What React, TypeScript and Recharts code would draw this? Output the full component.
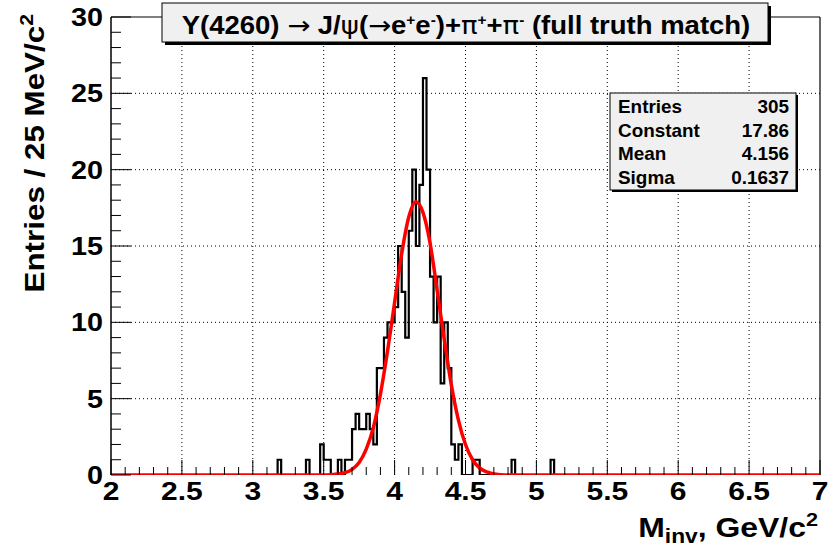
import React from "react";
import { ComposedChart, Line, XAxis, YAxis, ReferenceLine } from "recharts";

const FONT = '"Liberation Sans", Arial, Helvetica, sans-serif';
const SYM = '"DejaVu Sans", sans-serif';

// histogram: lower edge of each non-empty 25 MeV bin, and its entries
const binWidth = 0.025;
const binLow = [
  3.175, 3.375, 3.475, 3.5, 3.525, 3.6, 3.65, 3.675, 3.7, 3.725, 3.75, 3.775, 3.8, 3.825, 3.85,
  3.875, 3.9, 3.925, 3.95, 3.975, 4.0, 4.025, 4.05, 4.075, 4.1, 4.125, 4.15, 4.175, 4.2,
  4.225, 4.25, 4.275, 4.3, 4.325, 4.35, 4.375, 4.4, 4.425, 4.45, 4.55, 4.575, 4.825, 5.1,
];
const binEntries = [
  1, 1, 2, 1, 1, 1, 1, 1, 3, 4, 3, 3, 4, 3, 2,
  7, 7, 9, 10, 10, 11, 15, 12, 9, 16, 20, 15, 19, 26,
  20, 13, 10, 13, 6, 10, 7, 2, 1, 2, 1, 1, 1, 1,
];

// gaussian fit (red)
const fitMass = [
  2, 3.45, 3.5, 3.55, 3.6, 3.65, 3.7, 3.75, 3.8, 3.85, 3.9, 3.95, 4.0, 4.05, 4.1, 4.15,
  4.2, 4.25, 4.3, 4.35, 4.4, 4.45, 4.5, 4.55, 4.6, 4.65, 4.7, 4.75, 4.8, 4.85, 7,
];
const fitValue = [
  0, 0, 0, 0.02, 0.06, 0.15, 0.37, 0.82, 1.7, 3.1, 5.3, 8.1, 11.3, 14.5, 16.9, 17.9,
  17.2, 15.2, 12.1, 8.9, 5.9, 3.6, 2.0, 1.0, 0.45, 0.2, 0.07, 0.02, 0, 0, 0,
];

const xMajor = [2, 2.5, 3, 3.5, 4, 4.5, 5, 5.5, 6, 6.5, 7];
const yMajor = [0, 5, 10, 15, 20, 25, 30];

const stats = [
  ["Entries", "305"],
  ["Constant", "17.86"],
  ["Mean", "4.156"],
  ["Sigma", "0.1637"],
];

// 5 minor divisions per major on both axes
const xTicks: number[] = [];
xMajor.forEach((v, i) => {
  if (i === xMajor.length - 1) { xTicks.push(v); return; }
  for (let k = 0; k < 5; k++) xTicks.push(Math.round((v + k * 0.1) * 10) / 10);
});
const yTicks: number[] = [];
yMajor.forEach((v, i) => {
  if (i === yMajor.length - 1) { yTicks.push(v); return; }
  for (let k = 0; k < 5; k++) yTicks.push(v + k);
});

const histPoints: { m: number; n: number }[] = [{ m: 2, n: 0 }];
binLow.forEach((lo, i) => {
  histPoints.push({ m: lo, n: binEntries[i] });
  const next = binLow[i + 1];
  if (next === undefined || Math.abs(next - (lo + binWidth)) > 1e-6) {
    histPoints.push({ m: lo + binWidth, n: 0 });
  }
});
histPoints.push({ m: 7, n: 0 });

const fitPoints = fitMass.map((m, i) => ({ m, f: fitValue[i] }));

const isMajor = (list: number[], v: number) => list.some((t) => Math.abs(t - v) < 1e-6);

function XTick(props: any) {
  const { x, y, payload } = props;
  const v = payload.value;
  const major = isMajor(xMajor, v);
  return (
    <g>
      <line x1={x} x2={x} y1={y} y2={y - (major ? 15 : 8)} stroke="#000" strokeWidth={1} />
      {major && (
        <text
          transform={`translate(${x},${y + 25}) scale(1.2,1)`}
          textAnchor="middle"
          fontFamily={FONT}
          fontWeight="bold"
          fontSize={25}
          fill="#000"
        >
          {String(v)}
        </text>
      )}
    </g>
  );
}

function YTick(props: any) {
  const { x, y, payload } = props;
  const v = payload.value;
  const major = isMajor(yMajor, v);
  const ax = x + 8;
  return (
    <g>
      <line x1={ax} x2={ax + (major ? 20 : 10)} y1={y} y2={y} stroke="#000" strokeWidth={1} />
      {major && (
        <text
          transform={`translate(${x},${y + 9}) scale(1.15,1)`}
          textAnchor="end"
          fontFamily={FONT}
          fontWeight="bold"
          fontSize={25}
          fill="#000"
        >
          {String(v)}
        </text>
      )}
    </g>
  );
}

export default function App() {
  return (
    <div style={{ position: "absolute", left: 0, top: 0, width: 835, height: 549, background: "#fff" }}>
      <ComposedChart width={835} height={549} margin={{ top: 17, right: 15, bottom: 0, left: 0 }}>
        <XAxis
          dataKey="m"
          type="number"
          domain={[2, 7]}
          ticks={xTicks}
          interval={0}
          tickSize={0}
          tickMargin={0}
          tick={(p: any) => <XTick {...p} />}
          height={74}
          axisLine={false}
          allowDataOverflow
        />
        <YAxis
          type="number"
          domain={[0, 30]}
          ticks={yTicks}
          interval={0}
          tickSize={0}
          tickMargin={8}
          tick={(p: any) => <YTick {...p} />}
          width={111}
          axisLine={{ stroke: "#000", strokeWidth: 1.5 }}
          allowDataOverflow
        />
        {xMajor.slice(1, -1).map((v) => (
          <ReferenceLine key={"gx" + v} x={v} stroke="#000" strokeDasharray="1 3" />
        ))}
        {yMajor.slice(1, -1).map((v) => (
          <ReferenceLine key={"gy" + v} y={v} stroke="#000" strokeDasharray="1 3" />
        ))}
        {/* frame top and right */}
        <ReferenceLine y={30} stroke="#000" strokeWidth={1.2} />
        <ReferenceLine x={7} stroke="#000" strokeWidth={1.2} />
        <Line
          data={histPoints}
          dataKey="n"
          type="stepAfter"
          stroke="#000"
          strokeWidth={2.2}
          dot={false}
          activeDot={false}
          isAnimationActive={false}
        />
        <Line
          data={fitPoints}
          dataKey="f"
          type="monotone"
          stroke="#ff0000"
          strokeWidth={3.5}
          dot={false}
          activeDot={false}
          isAnimationActive={false}
        />
      </ComposedChart>

      <svg
        width={835}
        height={549}
        style={{ position: "absolute", left: 0, top: 0, pointerEvents: "none" }}
        fontFamily={FONT}
        fontWeight="bold"
      >
        {/* title box */}
        <rect x={165} y={6} width={606} height={39} fill="#000" />
        <rect x={162} y={3} width={606} height={39} fill="#f0f0f0" stroke="#000" strokeWidth={1} />
        <g transform="translate(466,34) scale(1.1,1)">
          <text textAnchor="middle" fontSize={25} fill="#000">
            Y(4260)  <tspan fontFamily={SYM} fontWeight="normal">→</tspan> J/
            <tspan fontFamily={SYM} fontWeight="normal">ψ</tspan>(
            <tspan fontFamily={SYM} fontWeight="normal">→</tspan>e
            <tspan dy={-9} fontSize={14}>+</tspan>
            <tspan dy={9}>e</tspan>
            <tspan dy={-9} fontSize={14}>-</tspan>
            <tspan dy={9}>)+</tspan>
            <tspan fontFamily={SYM} fontWeight="normal">π</tspan>
            <tspan dy={-9} fontSize={14}>+</tspan>
            <tspan dy={9}>+</tspan>
            <tspan fontFamily={SYM} fontWeight="normal">π</tspan>
            <tspan dy={-9} fontSize={14}>-</tspan>
            <tspan dy={9}> (full truth match)</tspan>
          </text>
        </g>

        {/* stats box */}
        <rect x={612} y={95} width={186} height={97} fill="#000" />
        <rect x={610} y={93} width={186} height={97} fill="#f0f0f0" stroke="#000" strokeWidth={1} />
        {stats.map(([k, v], i) => (
          <g key={k}>
            <text transform={`translate(618,${113 + i * 23.5}) scale(1.08,1)`} fontSize={17.5} fill="#000">
              {k}
            </text>
            <text
              transform={`translate(789,${113 + i * 23.5}) scale(1.08,1)`}
              fontSize={17.5}
              fill="#000"
              textAnchor="end"
            >
              {v}
            </text>
          </g>
        ))}

        {/* y title */}
        <g transform="translate(44,14) rotate(-90) scale(1.12,1)">
          <text textAnchor="end" fontSize={28} fill="#000">
            Entries / 25 MeV/c<tspan dy={-11} fontSize={19}>2</tspan>
          </text>
        </g>

        {/* x title */}
        <g transform="translate(818,537) scale(1.14,1)">
          <text textAnchor="end" fontSize={28} fill="#000">
            M<tspan dy={6} fontSize={20}>inv</tspan>
            <tspan dy={-6}>, GeV/c</tspan>
            <tspan dy={-11} fontSize={19}>2</tspan>
          </text>
        </g>
      </svg>
    </div>
  );
}
